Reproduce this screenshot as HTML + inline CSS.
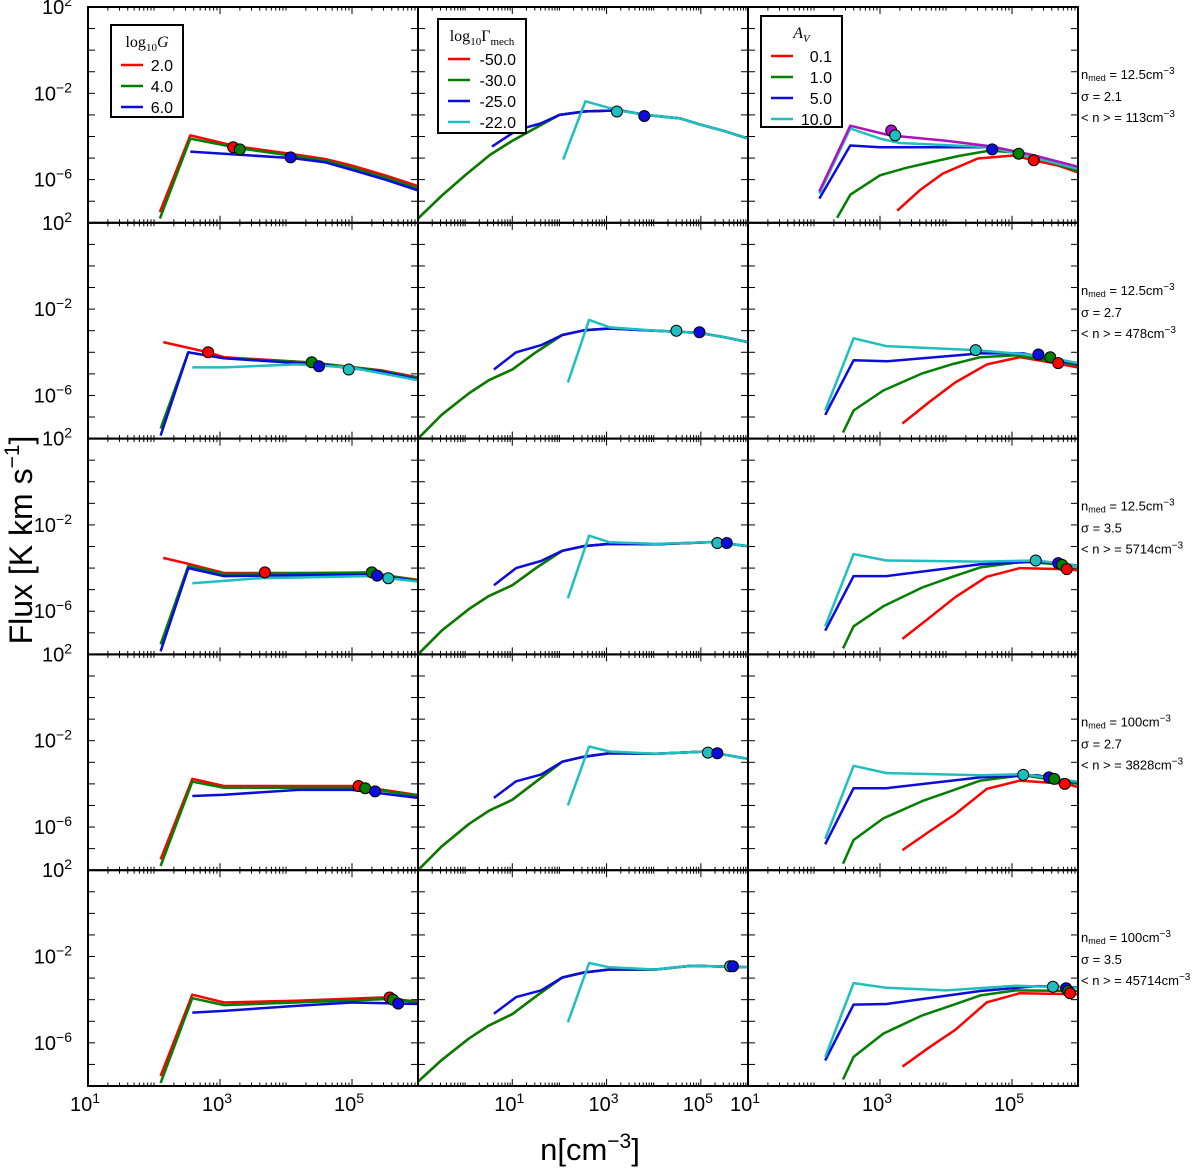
<!DOCTYPE html>
<html><head><meta charset="utf-8"><style>
html,body{margin:0;padding:0;background:#fff;}
svg{display:block;font-family:"Liberation Sans","DejaVu Sans",sans-serif;}
</style></head><body>
<svg id="chart" width="1200" height="1169" viewBox="0 0 1200 1169" xmlns="http://www.w3.org/2000/svg"></svg>
<script>
// ---- data (log10 n, log10 flux) ----
const r1c1_red=[[2.09,-7.5],[2.55,-3.95],[3.24,-4.45],[4.06,-4.8],[4.6,-5.05],[5,-5.35],[5.5,-5.8],[6,-6.3]];
const r1c1_green=[[2.09,-7.8],[2.55,-4.1],[3.3,-4.55],[4.06,-4.88],[4.6,-5.12],[5,-5.45],[5.5,-5.9],[6,-6.4]];
const r1c1_blue=[[2.55,-4.7],[3.3,-4.85],[4.1,-5.0],[4.6,-5.2],[5,-5.55],[5.5,-6.0],[6,-6.5]];
const r1c1_marks=[[3.2,-4.5,'red'],[3.3,-4.6,'green'],[4.07,-4.97,'blue']];

const r1c2_green=[[-1,-7.8],[-0.5,-6.75],[0,-5.8],[0.53,-4.85],[1.0,-4.2],[1.5,-3.6],[2.0,-3.0],[2.55,-2.84],[3.29,-2.79],[3.82,-3.0],[4.56,-3.16],[4.98,-3.44],[5.5,-3.75],[6,-4.1]];
const r1c2_blue=[[0.57,-4.47],[1.0,-3.85],[1.27,-3.6],[1.6,-3.4],[2.0,-3.0],[2.55,-2.84],[3.29,-2.79],[3.82,-3.0],[4.56,-3.16],[4.98,-3.44],[5.5,-3.75],[6,-4.1]];
const r1c2_cyan=[[2.08,-5.07],[2.55,-2.37],[3.25,-2.79],[3.82,-3.0],[4.56,-3.16],[4.98,-3.44],[5.5,-3.75],[6,-4.1]];
const r1c2_marks=[[3.22,-2.84,'cyan'],[3.8,-3.05,'blue']];

const r1c3_red=[[3.26,-7.44],[3.6,-6.5],[3.95,-5.72],[4.48,-5.02],[5.02,-4.88],[5.32,-5.1],[5.7,-5.35],[6,-5.67]];
const r1c3_green=[[2.35,-7.77],[2.55,-6.7],[3.0,-5.8],[3.4,-5.45],[3.76,-5.2],[4.2,-4.9],[4.67,-4.65],[5.02,-4.74],[5.5,-5.1],[6,-5.6]];
const r1c3_blue=[[2.08,-6.88],[2.55,-4.42],[3.0,-4.5],[4.67,-4.5],[5.02,-4.7],[5.5,-5.05],[6,-5.5]];
const r1c3_cyan=[[2.08,-6.65],[2.55,-3.63],[3.0,-4.1],[3.3,-4.3],[4.0,-4.4],[4.67,-4.5],[5.3,-4.95],[6,-5.5]];
const r1c3_magenta=[[2.08,-6.55],[2.55,-3.5],[3.15,-3.95],[4.0,-4.2],[4.67,-4.45],[5.3,-4.85],[6,-5.4]];
const r1c3_marks=[[3.17,-3.72,'magenta'],[3.23,-3.95,'cyan'],[4.7,-4.6,'blue'],[5.1,-4.8,'green'],[5.33,-5.1,'red']];

const r2c1_red=[[2.14,-3.53],[2.82,-4.0],[3.06,-4.23],[4.36,-4.47],[5.45,-4.84],[6,-5.16]];
const r2c1_green=[[2.1,-7.53],[2.52,-4.0],[3.06,-4.28],[4.36,-4.47],[5.45,-4.86],[6,-5.2]];
const r2c1_blue=[[2.1,-7.86],[2.52,-4.0],[3.06,-4.28],[4.48,-4.56],[5.45,-4.9],[6,-5.25]];
const r2c1_cyan=[[2.58,-4.7],[3.06,-4.7],[4.15,-4.56],[4.97,-4.7],[6,-5.3]];
const r2c1_marks=[[2.82,-4.0,'red'],[4.39,-4.46,'green'],[4.5,-4.65,'blue'],[4.95,-4.8,'cyan']];

const r2c2_green=[[-1,-8.0],[-0.5,-6.9],[0.08,-5.9],[0.5,-5.3],[1.0,-4.8],[1.5,-4.0],[2.06,-3.2],[2.52,-2.98],[3.06,-2.9],[4.05,-3.0],[4.97,-3.1],[5.5,-3.3],[6,-3.53]];
const r2c2_blue=[[0.61,-4.8],[1.08,-4.0],[1.61,-3.67],[2.06,-3.2],[2.52,-2.98],[3.06,-2.9],[4.05,-3.0],[4.97,-3.1],[5.5,-3.3],[6,-3.53]];
const r2c2_cyan=[[2.18,-5.4],[2.63,-2.5],[3.06,-2.84],[4.05,-3.0],[4.97,-3.1],[5.5,-3.3],[6,-3.53]];
const r2c2_marks=[[4.48,-3.0,'cyan'],[4.97,-3.07,'blue']];

const r2c3_red=[[3.34,-7.3],[3.75,-6.3],[4.14,-5.4],[4.62,-4.56],[5.12,-4.23],[5.65,-4.5],[6,-4.7]];
const r2c3_green=[[2.44,-7.72],[2.6,-6.7],[3.05,-5.77],[3.64,-4.98],[4.1,-4.55],[4.52,-4.23],[5.06,-4.14],[6,-4.6]];
const r2c3_blue=[[2.17,-6.9],[2.6,-4.37],[3.1,-4.42],[4.52,-4.05],[5.17,-4.05],[6,-4.55]];
const r2c3_cyan=[[2.17,-6.7],[2.6,-3.35],[3.1,-3.72],[4.45,-3.9],[5.38,-4.14],[6,-4.5]];
const r2c3_marks=[[4.45,-3.9,'cyan'],[5.4,-4.1,'blue'],[5.58,-4.23,'green'],[5.7,-4.5,'red']];

const r3c1_red=[[2.14,-3.53],[2.52,-3.8],[3.06,-4.23],[3.7,-4.23],[5.24,-4.23],[6,-4.55]];
const r3c1_green=[[2.1,-7.53],[2.52,-3.9],[3.06,-4.28],[5.24,-4.2],[6,-4.58]];
const r3c1_blue=[[2.1,-7.86],[2.52,-4.0],[3.06,-4.37],[5.24,-4.3],[6,-4.6]];
const r3c1_cyan=[[2.58,-4.7],[3.59,-4.47],[5.24,-4.37],[6,-4.62]];
const r3c1_marks=[[3.68,-4.2,'red'],[5.3,-4.2,'green'],[5.38,-4.35,'blue'],[5.55,-4.47,'cyan']];

const r3c2_green=[[-1,-8.0],[-0.5,-6.9],[0.08,-5.9],[0.5,-5.3],[1.0,-4.8],[1.5,-4.0],[2.06,-3.2],[2.52,-2.98],[3.06,-2.88],[4.05,-2.9],[5.28,-2.79],[6,-2.98]];
const r3c2_blue=[[0.61,-4.8],[1.08,-4.0],[1.61,-3.67],[2.06,-3.2],[2.52,-2.98],[3.06,-2.88],[4.05,-2.9],[5.28,-2.79],[6,-2.98]];
const r3c2_cyan=[[2.18,-5.4],[2.63,-2.5],[3.06,-2.8],[4.05,-2.88],[5.28,-2.79],[6,-2.98]];
const r3c2_marks=[[5.35,-2.84,'cyan'],[5.55,-2.84,'blue']];

const r3c3_red=[[3.34,-7.28],[3.75,-6.3],[4.14,-5.35],[4.62,-4.4],[5.12,-4.0],[5.82,-4.05],[6,-4.1]];
const r3c3_green=[[2.44,-7.72],[2.6,-6.7],[3.05,-5.77],[3.64,-4.9],[4.1,-4.4],[4.52,-3.97],[5.17,-3.7],[6,-3.9]];
const r3c3_blue=[[2.17,-6.9],[2.6,-4.37],[3.1,-4.37],[4.52,-3.82],[5.38,-3.7],[6,-3.88]];
const r3c3_cyan=[[2.17,-6.7],[2.6,-3.35],[3.1,-3.65],[4.52,-3.7],[5.38,-3.65],[6,-3.9]];
const r3c3_marks=[[5.36,-3.65,'cyan'],[5.7,-3.77,'blue'],[5.76,-3.85,'green'],[5.83,-4.05,'red']];

const r4c1_red=[[2.1,-7.5],[2.58,-3.77],[3.06,-4.1],[5.08,-4.1],[6,-4.52]];
const r4c1_green=[[2.1,-7.8],[2.58,-3.9],[3.06,-4.18],[5.15,-4.18],[6,-4.55]];
const r4c1_blue=[[2.58,-4.56],[3.06,-4.5],[4.18,-4.28],[5.0,-4.28],[6,-4.65]];
const r4c1_marks=[[5.1,-4.1,'red'],[5.2,-4.2,'green'],[5.35,-4.35,'blue']];

const r4c2_green=[[-1,-8.0],[-0.5,-6.9],[0.08,-5.86],[0.5,-5.25],[1.0,-4.74],[1.5,-3.9],[2.06,-2.97],[2.52,-2.74],[3.06,-2.58],[4.05,-2.6],[5.11,-2.5],[6,-2.84]];
const r4c2_blue=[[0.61,-4.65],[1.08,-3.88],[1.61,-3.57],[2.06,-2.97],[2.52,-2.74],[3.06,-2.58],[4.05,-2.6],[5.11,-2.5],[6,-2.84]];
const r4c2_cyan=[[2.18,-5.0],[2.63,-2.27],[3.06,-2.5],[4.05,-2.6],[5.11,-2.5],[6,-2.84]];
const r4c2_marks=[[5.15,-2.55,'cyan'],[5.35,-2.58,'blue']];

const r4c3_red=[[3.34,-7.07],[3.75,-6.2],[4.14,-5.4],[4.62,-4.23],[5.12,-3.85],[5.82,-4.0],[6,-4.15]];
const r4c3_green=[[2.44,-7.7],[2.6,-6.6],[3.05,-5.6],[3.64,-4.8],[4.1,-4.3],[4.52,-3.85],[5.17,-3.6],[6,-4.0]];
const r4c3_blue=[[2.17,-6.8],[2.6,-4.2],[3.1,-4.2],[4.52,-3.7],[5.38,-3.6],[6,-3.95]];
const r4c3_cyan=[[2.17,-6.55],[2.6,-3.16],[3.1,-3.5],[4.52,-3.6],[5.17,-3.55],[6,-3.9]];
const r4c3_marks=[[5.17,-3.58,'cyan'],[5.56,-3.7,'blue'],[5.64,-3.77,'green'],[5.8,-4.0,'red']];

const r5c1_red=[[2.1,-7.53],[2.58,-3.77],[3.06,-4.13],[4.15,-4.05],[5.45,-3.9],[6,-4.1]];
const r5c1_green=[[2.1,-7.86],[2.58,-3.93],[3.06,-4.25],[4.15,-4.13],[5.55,-3.97],[6,-4.12]];
const r5c1_blue=[[2.58,-4.6],[3.06,-4.52],[4.18,-4.28],[5.0,-4.13],[6,-4.2]];
const r5c1_marks=[[5.57,-3.9,'red'],[5.62,-4.0,'green'],[5.7,-4.18,'blue']];

const r5c2_green=[[-1,-7.8],[-0.5,-6.8],[0.08,-5.8],[0.5,-5.2],[1.0,-4.67],[1.5,-3.85],[2.06,-2.97],[2.52,-2.74],[3.06,-2.6],[4.05,-2.6],[4.8,-2.43],[6,-2.5]];
const r5c2_blue=[[0.61,-4.65],[1.08,-3.88],[1.61,-3.57],[2.06,-2.97],[2.52,-2.74],[3.06,-2.6],[4.05,-2.6],[4.8,-2.43],[6,-2.5]];
const r5c2_cyan=[[2.18,-5.05],[2.63,-2.3],[3.06,-2.5],[4.05,-2.6],[4.8,-2.43],[6,-2.5]];
const r5c2_marks=[[5.62,-2.45,'cyan'],[5.68,-2.45,'blue']];

const r5c3_red=[[3.34,-7.1],[3.75,-6.2],[4.14,-5.4],[4.62,-4.12],[5.12,-3.7],[6,-3.75]];
const r5c3_green=[[2.44,-7.7],[2.6,-6.65],[3.05,-5.57],[3.64,-4.73],[4.1,-4.25],[4.52,-3.8],[5.06,-3.57],[6,-3.6]];
const r5c3_blue=[[2.17,-6.82],[2.6,-4.23],[3.1,-4.2],[4.52,-3.6],[5.38,-3.37],[6,-3.43]];
const r5c3_cyan=[[2.17,-6.65],[2.6,-3.23],[3.1,-3.45],[4.0,-3.57],[5.06,-3.35],[6,-3.45]];
const r5c3_marks=[[5.62,-3.4,'cyan'],[5.82,-3.47,'blue'],[5.85,-3.6,'green'],[5.88,-3.7,'red']];

const rowNotes=[["12.5","2.1","113"],["12.5","2.7","478"],["12.5","3.5","5714"],["100","2.7","3828"],["100","3.5","45714"]];
const legendCol1=["2.0","4.0","6.0"];
const legendCol2=["-50.0","-30.0","-25.0","-22.0"];
const legendCol3=["0.1","1.0","5.0","10.0"];
const xRanges=[[1,6],[-1,6],[1,6]];
const yRange=[-8,2];

// ---- layout ----
const NS="http://www.w3.org/2000/svg";
const svg=document.getElementById('chart');
const colL=[88,418,748], colW=330, rowT0=7, rowH=215.8;
const COL={red:'#ff0000',green:'#007f00',blue:'#0c0cdc',cyan:'#1fbfbf',magenta:'#b010c0'};
function el(tag,attrs,parent){const e=document.createElementNS(NS,tag);for(const k in attrs)e.setAttribute(k,attrs[k]);(parent||svg).appendChild(e);return e;}
function xs(c,v){const r=xRanges[c];return colL[c]+(v-r[0])/(r[1]-r[0])*colW;}
function ys(r,v){return rowT0+r*rowH+(yRange[1]-v)/(yRange[1]-yRange[0])*rowH;}

const panels=[
 [{red:r1c1_red,green:r1c1_green,blue:r1c1_blue,m:r1c1_marks},{red:r1c2_green,green:r1c2_green,blue:r1c2_blue,cyan:r1c2_cyan,m:r1c2_marks},{red:r1c3_red,green:r1c3_green,blue:r1c3_blue,cyan:r1c3_cyan,magenta:r1c3_magenta,m:r1c3_marks}],
 [{red:r2c1_red,green:r2c1_green,blue:r2c1_blue,cyan:r2c1_cyan,m:r2c1_marks},{red:r2c2_green,green:r2c2_green,blue:r2c2_blue,cyan:r2c2_cyan,m:r2c2_marks},{red:r2c3_red,green:r2c3_green,blue:r2c3_blue,cyan:r2c3_cyan,m:r2c3_marks}],
 [{red:r3c1_red,green:r3c1_green,blue:r3c1_blue,cyan:r3c1_cyan,m:r3c1_marks},{red:r3c2_green,green:r3c2_green,blue:r3c2_blue,cyan:r3c2_cyan,m:r3c2_marks},{red:r3c3_red,green:r3c3_green,blue:r3c3_blue,cyan:r3c3_cyan,m:r3c3_marks}],
 [{red:r4c1_red,green:r4c1_green,blue:r4c1_blue,m:r4c1_marks},{red:r4c2_green,green:r4c2_green,blue:r4c2_blue,cyan:r4c2_cyan,m:r4c2_marks},{red:r4c3_red,green:r4c3_green,blue:r4c3_blue,cyan:r4c3_cyan,m:r4c3_marks}],
 [{red:r5c1_red,green:r5c1_green,blue:r5c1_blue,m:r5c1_marks},{red:r5c2_green,green:r5c2_green,blue:r5c2_blue,cyan:r5c2_cyan,m:r5c2_marks},{red:r5c3_red,green:r5c3_green,blue:r5c3_blue,cyan:r5c3_cyan,m:r5c3_marks}]
];

for(let r=0;r<5;r++){
 for(let c=0;c<3;c++){
  const g=el('g',{});
  
  
  const top=rowT0+r*rowH, bot=top+rowH, L=colL[c], R=L+colW;
  const xr=xRanges[c];
  for(let d=Math.floor(xr[0]);d<=xr[1];d++){
   for(let k=1;k<10;k++){
    const v=d+Math.log10(k); if(v<xr[0]-1e-6||v>xr[1]+1e-6) continue;
    const x=xs(c,v); const major=(k===1 && ((d-xr[0])%2===0));
    const len=major?7:3.5;
    el('line',{x1:x,y1:bot,x2:x,y2:bot-len,stroke:'#000','stroke-width':1},g);
    el('line',{x1:x,y1:top,x2:x,y2:top+len,stroke:'#000','stroke-width':1},g);
   }
  }
  for(let v=yRange[0]+1;v<yRange[1];v++){
   const y=ys(r,v);
   el('line',{x1:L,y1:y,x2:L+7,y2:y,stroke:'#000','stroke-width':1},g);
   el('line',{x1:R,y1:y,x2:R-7,y2:y,stroke:'#000','stroke-width':1},g);
  }
  const p=panels[r][c];
  ['red','green','blue','cyan','magenta'].forEach(s=>{
   if(!p[s])return;
   const pts=p[s].map(q=>xs(c,q[0]).toFixed(1)+','+ys(r,q[1]).toFixed(1)).join(' ');
   const pl=el('polyline',{points:pts,fill:'none',stroke:COL[s],'stroke-width':2.5,'stroke-linejoin':'round'},g);
   
   
  });
  p.m.forEach(q=>{
   const ci=el('circle',{cx:xs(c,q[0]),cy:ys(r,q[1]),r:5.5,fill:COL[q[2]],stroke:'#000','stroke-width':1},g);
   
   
  });
  el('rect',{x:L,y:top,width:colW,height:rowH,fill:'none',stroke:'#000','stroke-width':2},g);
 }
 [[2,'2'],[-2,'−2'],[-6,'−6']].forEach(t=>{
  const y=ys(r,t[0]);
  const tx=el('text',{x:72,y:y+7,'text-anchor':'end','font-size':20,fill:'#000'});
  
  
  tx.innerHTML='10<tspan dy="-8" font-size="14">'+t[1]+'</tspan>';
 });
 const n=rowNotes[r], top=rowT0+r*rowH;
 const a=el('text',{x:1081,y:top+72,'font-size':13,fill:'#000'});
 
 
 a.innerHTML='n<tspan font-size="9" dy="2">med</tspan><tspan dy="-2"> = '+n[0]+'cm</tspan><tspan dy="-5" font-size="10">−3</tspan>';
 const b=el('text',{x:1081,y:top+94,'font-size':13,fill:'#000'});
 
 
 b.textContent='σ = '+n[1];
 const d=el('text',{x:1081,y:top+115,'font-size':13,fill:'#000'});
 
 
 d.innerHTML='&lt; n &gt; = '+n[2]+'cm<tspan dy="-5" font-size="10">−3</tspan>';
}

[[0,[1,3,5]],[1,[1,3,5]],[2,[1,3,5]]].forEach(([c,arr])=>{
 arr.forEach(v=>{
  const tx=el('text',{x:xs(c,v)-3,y:1111,'text-anchor':'middle','font-size':20,fill:'#000'});
  
  
  tx.innerHTML='10<tspan dy="-8" font-size="14">'+v+'</tspan>';
 });
});

function legend(x,y,w,h,title,labels,cols,name){
 const g=el('g',{});
 
 
 el('rect',{x:x,y:y,width:w,height:h,fill:'#fff',stroke:'#000','stroke-width':2},g);
 const t=el('text',{x:x+w/2,y:y+22,'text-anchor':'middle','font-size':16,'font-family':'"Liberation Serif",serif',fill:'#000'},g);
 t.innerHTML=title;
 labels.forEach((lab,i)=>{
  const yy=y+40+i*21;
  el('line',{x1:x+10,y1:yy,x2:x+32,y2:yy,stroke:cols[i],'stroke-width':2.5},g);
  const tt=el('text',{x:x+w-10,y:yy+6,'text-anchor':'end','font-size':16,fill:'#000'},g);
  tt.textContent=lab;
  
  
 });
}
legend(111,25,72,92,'log<tspan font-size="11" dy="4">10</tspan><tspan dy="-4" font-style="italic">G</tspan>',legendCol1,[COL.red,COL.green,COL.blue],'legend-log10g');
legend(438,19,88,114,'log<tspan font-size="11" dy="4">10</tspan><tspan dy="-4">Γ</tspan><tspan font-size="11" dy="4">mech</tspan>',legendCol2,[COL.red,COL.green,COL.blue,COL.cyan],'legend-log10gamma-mech');
legend(761,16,81,111,'<tspan font-style="italic">A</tspan><tspan font-size="11" dy="4" font-style="italic">V</tspan>',legendCol3,[COL.red,COL.green,COL.blue,COL.cyan],'legend-av');

const yt=el('text',{x:0,y:0,transform:'translate(32,540) rotate(-90)','text-anchor':'middle','font-size':32,fill:'#000'});


yt.innerHTML='Flux [K km s<tspan dy="-13" font-size="21">−1</tspan><tspan dy="13">]</tspan>';
const xt=el('text',{x:590,y:1160,'text-anchor':'middle','font-size':31,fill:'#000'});


xt.innerHTML='n[cm<tspan dy="-12" font-size="21">−3</tspan><tspan dy="12">]</tspan>';
</script>
</body></html>
